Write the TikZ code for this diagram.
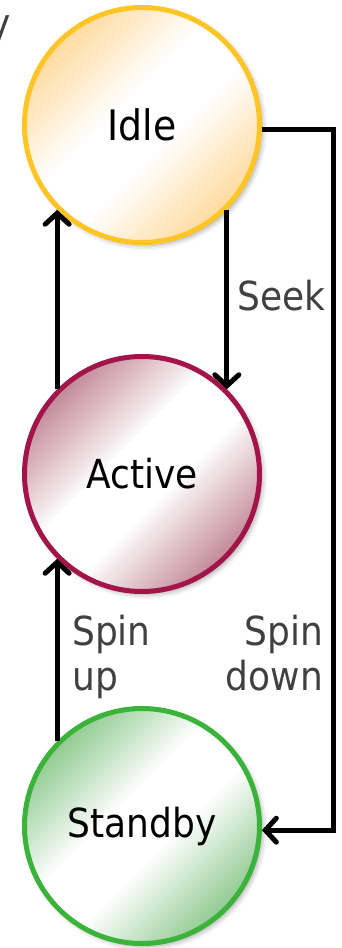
\documentclass[tikz,border=0pt]{standalone}
\usepackage{fontspec}
\setmainfont{DejaVu Sans}[FakeStretch=0.9]
\usetikzlibrary{arrows.meta,shadows.blur}
\definecolor{idleB}{HTML}{FFC425}
\definecolor{actB}{HTML}{A3154A}
\definecolor{stbB}{HTML}{3BB33B}
\definecolor{lblgray}{HTML}{404040}
\pgfdeclareverticalshading{idleshade}{100bp}{color(0bp)=(rgb,255:red,255;green,204;blue,118); color(17bp)=(rgb,255:red,255;green,204;blue,118); color(44bp)=(white); color(56bp)=(white); color(83bp)=(rgb,255:red,255;green,204;blue,118); color(100bp)=(rgb,255:red,255;green,204;blue,118)}
\pgfdeclareverticalshading{actshade}{100bp}{color(0bp)=(rgb,255:red,170;green,88;blue,108); color(17bp)=(rgb,255:red,170;green,88;blue,108); color(44bp)=(white); color(56bp)=(white); color(83bp)=(rgb,255:red,170;green,88;blue,108); color(100bp)=(rgb,255:red,170;green,88;blue,108)}
\pgfdeclareverticalshading{stbshade}{100bp}{color(0bp)=(rgb,255:red,98;green,180;blue,98); color(17bp)=(rgb,255:red,98;green,180;blue,98); color(44bp)=(white); color(56bp)=(white); color(83bp)=(rgb,255:red,98;green,180;blue,98); color(100bp)=(rgb,255:red,98;green,180;blue,98)}
\begin{document}
\begin{tikzpicture}[x=1pt,y=1pt,
  state/.style={circle, minimum size=235pt, inner sep=0pt, line width=5pt,
    font=\fontsize{40}{45}\selectfont,
    blur shadow={shadow xshift=3pt, shadow yshift=-3pt, shadow blur radius=5pt, shadow opacity=35}},
  shadefill/.style={shade, shading=#1, shading angle=45},
  arr/.style={line width=5pt, -{Straight Barb[length=11pt,width=24pt,line cap=round]}},
  lbl/.style={font=\fontsize{40}{45}\selectfont, text=lblgray, inner sep=0pt}]
\useasboundingbox (0,0) rectangle (341,-948);
\node[lbl, anchor=base west] (ytxt) at (-11,-37) {y};
\node[state, draw=idleB, shadefill=idleshade] (idle) at (142,-125) {\fontsize{42}{45}\selectfont Idle};
\node[state, draw=actB, shadefill=actshade] (active) at (142,-474) {Active};
\node[state, draw=stbB, shadefill=stbshade] (standby) at (142,-826) {Standby};
\coordinate (loopx) at (333,0);
\draw[arr] (active.135) -- (idle.225);
\draw[arr] (idle.-45) -- (active.45);
\draw[arr] (standby.135) -- (active.225);
\draw[arr] (idle.-2) -- (idle.-2 -| loopx) -- (standby.-2 -| loopx) -- (standby.-2);
\node[lbl, anchor=base west] (seek) at (237,-310) {Seek};
\node[lbl, anchor=north west, align=left] (spinup) at (72,-615) {Spin\\up};
\node[lbl, anchor=north east, align=right] (spindown) at (323,-615) {Spin\\down};
\end{tikzpicture}
\end{document}
